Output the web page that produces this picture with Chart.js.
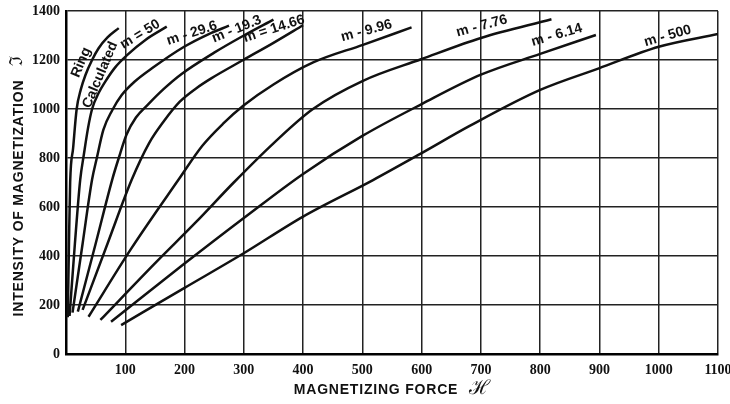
<!DOCTYPE html>
<html>
<head>
<meta charset="utf-8">
<script src="https://cdn.jsdelivr.net/npm/chart.js@4.4.1/dist/chart.umd.min.js"></script>
<style>
  html, body { margin: 0; padding: 0; background: #fff; }
  #wrap { width: 730px; height: 404px; }
</style>
</head>
<body>
<div id="wrap"><canvas id="c" width="730" height="404"></canvas></div>
<script>
// Magnetization curves: intensity of magnetization vs. magnetizing force
// for a closed ring and for rods of different dimension ratio m.

const ringH = [3, 5, 7, 12, 18, 25, 33, 44, 55, 70, 89];
const ringI = [150, 450, 700, 840, 1000, 1080, 1140, 1200, 1248, 1292, 1330];

const m50H = [6, 15, 24, 30, 37, 44, 55, 66, 83, 103, 134, 170];
const m50I = [155, 450, 712, 812, 920, 1000, 1065, 1111, 1170, 1220, 1282, 1336];

const m296H = [11, 28, 44, 52, 63, 78, 94, 115, 145, 200, 240, 275];
const m296I = [169, 450, 712, 800, 915, 995, 1057, 1110, 1166, 1255, 1305, 1340];

const m193H = [20, 50, 78, 89, 102, 118, 139, 165, 195, 250, 300, 350];
const m193I = [173, 450, 712, 800, 895, 965, 1020, 1082, 1143, 1230, 1300, 1365];

const m1466H = [28, 70, 111, 140, 165, 192, 220, 245, 299, 350, 400];
const m1466I = [180, 450, 712, 860, 950, 1030, 1085, 1125, 1200, 1270, 1342];

const m996H = [38, 110, 190, 230, 265, 300, 350, 417, 501, 583];
const m996I = [152, 430, 712, 850, 940, 1015, 1100, 1190, 1262, 1333];

const m776H = [58, 150, 220, 283, 350, 416, 501, 599, 700, 819];
const m776I = [139, 370, 540, 700, 860, 999, 1115, 1203, 1290, 1366];

const m614H = [76, 200, 300, 400, 500, 600, 700, 800, 894];
const m614I = [132, 369, 555, 735, 890, 1020, 1140, 1225, 1302];

const m500H = [93, 200, 297, 400, 518, 600, 681, 800, 899, 1000, 1100];
const m500I = [118, 270, 407, 561, 710, 820, 931, 1078, 1166, 1254, 1306];

const forceTicks = [0, 100, 200, 300, 400, 500, 600, 700, 800, 900, 1000, 1100];
const intensityTicks = [0, 200, 400, 600, 800, 1000, 1200, 1400];

const curveTexts = ['Ring', 'Calculated', 'm = 50', 'm - 29.6', 'm - 19.3',
                    'm = 14.66', 'm - 9.96', 'm - 7.76', 'm - 6.14', 'm - 500'];

// where each curve caption sits: [H, I, rotation in degrees]
const captionSpots = [
  [25.6, 1190, 67], [57.8, 1139, 67], [125, 1305, 31], [212.5, 1309, 18],
  [288, 1326, 22], [351, 1327, 18], [507, 1319, 15], [701.5, 1339, 15],
  [828, 1302, 16], [1015, 1298, 16]
];

const series = [
  [ringH, ringI], [m50H, m50I], [m296H, m296I], [m193H, m193I], [m1466H, m1466I],
  [m996H, m996I], [m776H, m776I], [m614H, m614I], [m500H, m500I]
];

const datasets = series.map(([h, i]) => ({
  data: h.map((v, k) => ({ x: v, y: i[k] })),
  borderColor: '#111',
  borderWidth: 2.5,
  pointRadius: 0,
  fill: false,
  cubicInterpolationMode: 'monotone'
}));

const captionPlugin = {
  id: 'captions',
  afterDatasetsDraw(chart) {
    const { ctx, scales: { x, y } } = chart;
    ctx.save();
    ctx.fillStyle = '#111';
    ctx.font = 'bold 14px "Liberation Sans", Arial, sans-serif';
    ctx.textAlign = 'center';
    ctx.textBaseline = 'middle';
    curveTexts.forEach((t, k) => {
      const [h, i, a] = captionSpots[k];
      ctx.save();
      ctx.translate(x.getPixelForValue(h), y.getPixelForValue(i));
      ctx.rotate(-a * Math.PI / 180);
      ctx.fillText(t, 0, 0);
      ctx.restore();
    });
    ctx.restore();
  },
  afterDraw(chart) {
    const ctx = chart.ctx;
    ctx.save();
    ctx.fillStyle = '#111';
    ctx.textAlign = 'center';
    ctx.textBaseline = 'middle';
    ctx.font = 'bold 14px "Liberation Sans", Arial, sans-serif';
    ctx.letterSpacing = '0.8px';
    ctx.fillText('MAGNETIZING FORCE', 376, 390);
    ctx.save();
    ctx.translate(19, 198);
    ctx.rotate(-Math.PI / 2);
    ctx.fillText('INTENSITY OF MAGNETIZATION', 0, 0);
    ctx.restore();
    ctx.letterSpacing = '0px';
    ctx.font = '20px "DejaVu Serif", serif';
    ctx.fillText('\u210B', 479, 389);
    ctx.save();
    ctx.translate(17, 61);
    ctx.rotate(-Math.PI / 2);
    ctx.font = '18px "DejaVu Serif", serif';
    ctx.fillText('\u2111', 0, 0);
    ctx.restore();
    ctx.restore();
  }
};

new Chart(document.getElementById('c'), {
  type: 'line',
  data: { datasets },
  options: {
    responsive: false,
    animation: false,
    events: [],
    layout: { padding: { top: 11, right: 12, left: 0, bottom: 0 } },
    plugins: { legend: { display: false }, tooltip: { enabled: false } },
    scales: {
      x: {
        type: 'linear',
        min: forceTicks[0],
        max: forceTicks[forceTicks.length - 1],
        afterBuildTicks: s => { s.ticks = forceTicks.map(v => ({ value: v })); },
        afterFit: s => { s.height = 50; s.paddingLeft = 0; s.paddingRight = 0; },
        grid: { color: '#222', lineWidth: 1.5, drawTicks: false },
        border: { color: '#000', width: 2.5 },
        ticks: {
          color: '#111',
          padding: 8,
          maxRotation: 0,
          font: { family: '"Liberation Serif", serif', weight: 'bold', size: 14 },
          callback: v => (v === 0 ? '' : String(v))
        }
      },
      y: {
        type: 'linear',
        min: intensityTicks[0],
        max: intensityTicks[intensityTicks.length - 1],
        afterBuildTicks: s => { s.ticks = intensityTicks.map(v => ({ value: v })); },
        afterFit: s => { s.width = 66; s.paddingTop = 0; s.paddingBottom = 0; },
        grid: { color: '#222', lineWidth: 1.5, drawTicks: false },
        border: { color: '#000', width: 2.5 },
        ticks: {
          color: '#111',
          padding: 6,
          font: { family: '"Liberation Serif", serif', weight: 'bold', size: 14 },
          callback: v => String(v)
        }
      }
    }
  },
  plugins: [captionPlugin]
});
</script>
</body>
</html>
